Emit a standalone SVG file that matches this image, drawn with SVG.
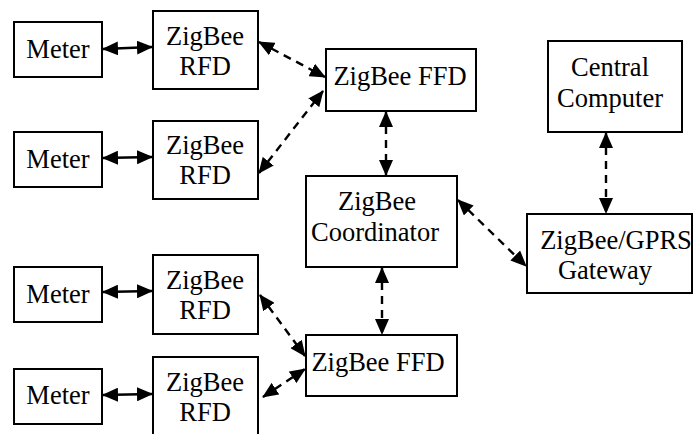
<svg xmlns="http://www.w3.org/2000/svg" width="694" height="434" viewBox="0 0 694 434">
<style>
.box{fill:#fff;stroke:#000;stroke-width:2}
.t{font-family:'Liberation Serif','Times New Roman','DejaVu Serif',serif;font-size:26.5px;fill:#000;text-anchor:middle}
.solid{stroke:#000;stroke-width:2.6;fill:none}
.dash{stroke:#000;stroke-width:2.4;fill:none;stroke-dasharray:8 6}
</style>
<defs>
<marker id="ah" viewBox="0 0 16 14" refX="15" refY="7" markerWidth="16" markerHeight="14" markerUnits="userSpaceOnUse" orient="auto-start-reverse">
<path d="M0,0 L16,7 L0,14 z" fill="#000"/>
</marker>
</defs>
<rect width="694" height="434" fill="#fff"/>
<g id="meter1"><rect class="box" x="14" y="22" width="88" height="55"/><text class="t" x="58" y="58">Meter</text></g>
<g id="rfd1"><rect class="box" x="153" y="11" width="105" height="78"/><text class="t" x="205" y="45">ZigBee</text><text class="t" x="205" y="75">RFD</text></g>
<g id="meter2"><rect class="box" x="14" y="132" width="88" height="55"/><text class="t" x="58" y="168">Meter</text></g>
<g id="rfd2"><rect class="box" x="153" y="121" width="105" height="78"/><text class="t" x="205" y="154">ZigBee</text><text class="t" x="205" y="184">RFD</text></g>
<g id="meter3"><rect class="box" x="14" y="267" width="88" height="55"/><text class="t" x="58" y="303">Meter</text></g>
<g id="rfd3"><rect class="box" x="153" y="255" width="105" height="79"/><text class="t" x="205" y="289">ZigBee</text><text class="t" x="205" y="319">RFD</text></g>
<g id="meter4"><rect class="box" x="14" y="369" width="88" height="55"/><text class="t" x="58" y="404">Meter</text></g>
<g id="rfd4"><rect class="box" x="153" y="357" width="105" height="90"/><text class="t" x="205" y="391">ZigBee</text><text class="t" x="205" y="421">RFD</text></g>
<g id="ffd1"><rect class="box" x="326" y="49" width="150" height="62"/><text class="t" x="400" y="85">ZigBee FFD</text></g>
<g id="ffd2"><rect class="box" x="306" y="335" width="151" height="61"/><text class="t" x="378" y="371">ZigBee FFD</text></g>
<g id="coordinator"><rect class="box" x="306" y="176" width="151" height="91"/><text class="t" x="377" y="210">ZigBee</text><text class="t" x="375" y="241">Coordinator</text></g>
<g id="central"><rect class="box" x="548" y="41" width="134" height="91"/><text class="t" x="610" y="76">Central</text><text class="t" x="610" y="107">Computer</text></g>
<g id="gateway"><rect class="box" x="527" y="214" width="165" height="79"/><text class="t" x="616" y="249">ZigBee/GPRS</text><text class="t" x="605" y="279">Gateway</text></g>
<g id="connectors">
<line class="solid" x1="103" y1="49" x2="152" y2="47" marker-start="url(#ah)" marker-end="url(#ah)"/>
<line class="solid" x1="103" y1="158" x2="152" y2="157" marker-start="url(#ah)" marker-end="url(#ah)"/>
<line class="solid" x1="103" y1="292" x2="152" y2="291" marker-start="url(#ah)" marker-end="url(#ah)"/>
<line class="solid" x1="103" y1="395" x2="152" y2="394" marker-start="url(#ah)" marker-end="url(#ah)"/>
<line class="dash" x1="259" y1="42" x2="325" y2="77" marker-start="url(#ah)" marker-end="url(#ah)"/>
<line class="dash" x1="259" y1="173" x2="323" y2="91" marker-start="url(#ah)" marker-end="url(#ah)"/>
<line class="dash" x1="386" y1="112" x2="386" y2="175" marker-start="url(#ah)" marker-end="url(#ah)"/>
<line class="dash" x1="458" y1="200" x2="526" y2="266" marker-start="url(#ah)" marker-end="url(#ah)"/>
<line class="dash" x1="606" y1="133" x2="606" y2="213" marker-start="url(#ah)" marker-end="url(#ah)"/>
<line class="dash" x1="382" y1="268" x2="382" y2="334" marker-start="url(#ah)" marker-end="url(#ah)"/>
<line class="dash" x1="260" y1="295" x2="305" y2="356" marker-start="url(#ah)" marker-end="url(#ah)"/>
<line class="dash" x1="263" y1="397" x2="305" y2="369" marker-start="url(#ah)" marker-end="url(#ah)"/>
</g>
</svg>
